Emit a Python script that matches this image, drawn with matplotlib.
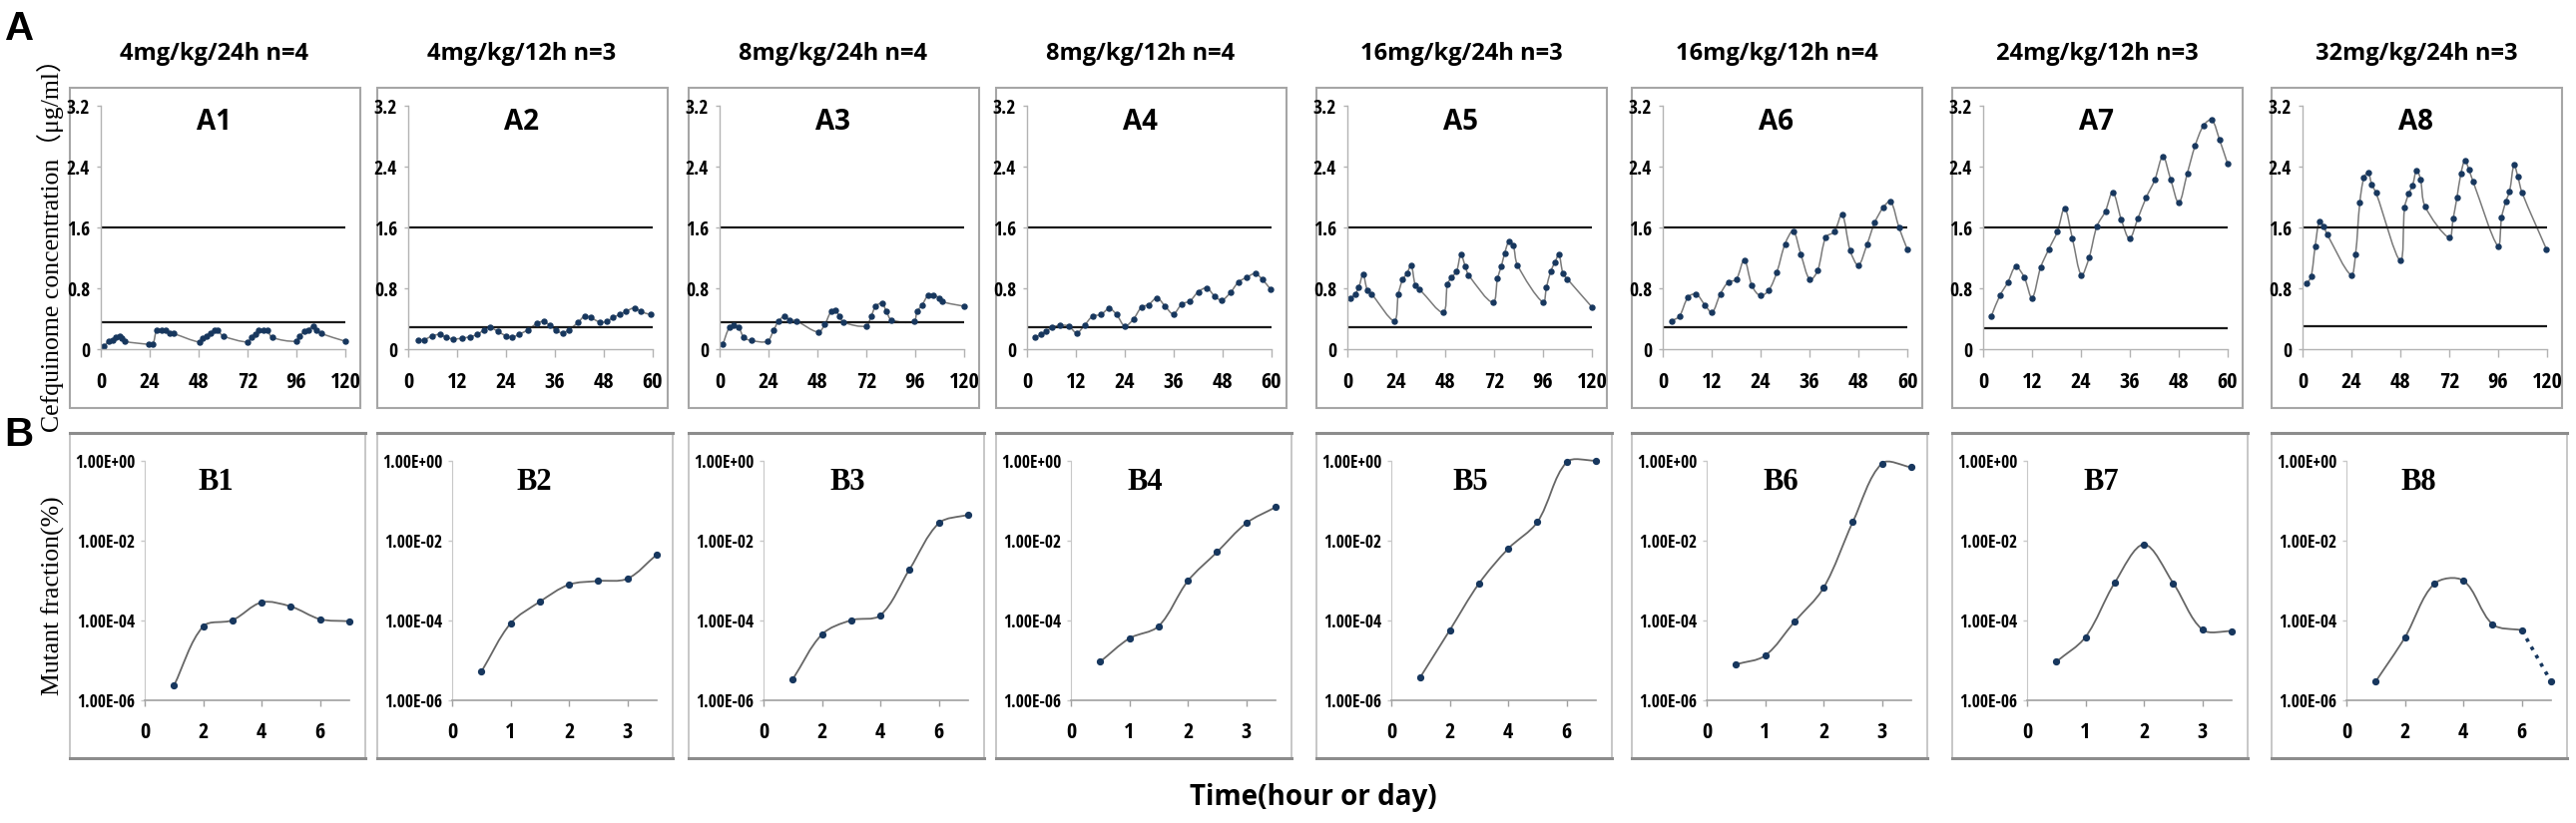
import matplotlib
matplotlib.use('Agg')
import matplotlib.pyplot as plt
import numpy as np
from matplotlib import font_manager
from matplotlib.path import Path
from matplotlib.patches import PathPatch, Rectangle
from matplotlib.ticker import NullLocator

# ---- data ----
titles = ["4mg/kg/24h n=4", "4mg/kg/12h n=3", "8mg/kg/24h n=4", "8mg/kg/12h n=4",
          "16mg/kg/24h n=3", "16mg/kg/12h n=4", "24mg/kg/12h n=3", "32mg/kg/24h n=3"]

a1_t = [1.7, 3.8, 5.8, 7.5, 9.2, 10.5, 11.7, 23.3, 25.5, 27.5, 30, 31.7, 33.8, 35.8, 48.3, 50, 51.7, 53.8,
        55.8, 57.5, 60, 72.2, 73.8, 75.8, 77.5, 80, 81.7, 84.2, 95.8, 97.5, 100, 101.7, 104.2, 105.8, 108.3, 120]
a1_c = [0.04, 0.11, 0.13, 0.17, 0.18, 0.15, 0.11, 0.07, 0.07, 0.26, 0.26, 0.25, 0.22, 0.21, 0.10, 0.15, 0.18, 0.22,
        0.26, 0.25, 0.18, 0.10, 0.17, 0.20, 0.25, 0.26, 0.25, 0.16, 0.11, 0.18, 0.24, 0.26, 0.31, 0.25, 0.21, 0.11]

a2_t = [2.4, 3.9, 5.9, 7.8, 9.3, 11.1, 13.2, 15.2, 17, 18.6, 20.1, 22, 24, 25.5, 27.1, 29.4, 31.7, 33.2, 34.8,
        36.3, 37.9, 39.4, 41.7, 43.3, 44.8, 47.1, 48.7, 50.2, 51.8, 53.3, 55.6, 57.1, 59.5]
a2_c = [0.12, 0.13, 0.18, 0.20, 0.16, 0.14, 0.15, 0.17, 0.20, 0.26, 0.29, 0.24, 0.18, 0.16, 0.20, 0.26, 0.35, 0.37,
        0.32, 0.25, 0.22, 0.26, 0.36, 0.44, 0.42, 0.36, 0.37, 0.42, 0.46, 0.50, 0.55, 0.50, 0.46]

a3_t = [1.6, 4.7, 6.9, 9.4, 11.9, 15.6, 23.4, 26.6, 28.8, 31.9, 34.4, 37.5, 48.4, 51.6, 54.7, 56.9, 58.8, 60.9,
        71.9, 74.4, 76.6, 79.7, 81.9, 84.4, 95.3, 96.9, 99.4, 102.5, 104.7, 107.8, 109.4, 120]
a3_c = [0.07, 0.29, 0.32, 0.29, 0.16, 0.12, 0.11, 0.26, 0.37, 0.44, 0.39, 0.38, 0.23, 0.33, 0.50, 0.52, 0.44, 0.36,
        0.31, 0.44, 0.57, 0.61, 0.50, 0.39, 0.37, 0.50, 0.59, 0.72, 0.72, 0.68, 0.63, 0.57]

a4_t = [1.9, 3.4, 4.7, 6.1, 8.0, 10.2, 12.2, 14.1, 16.1, 18.1, 20.2, 22, 24, 26.1, 28.1, 29.8, 31.9, 33.9, 35.9,
        38, 40, 42, 44.1, 46.1, 47.8, 49.9, 51.9, 53.9, 56, 57.8, 59.8]
a4_c = [0.16, 0.20, 0.24, 0.29, 0.32, 0.31, 0.22, 0.32, 0.44, 0.46, 0.54, 0.46, 0.31, 0.40, 0.56, 0.59, 0.68, 0.57,
        0.47, 0.60, 0.64, 0.76, 0.81, 0.70, 0.65, 0.75, 0.89, 0.95, 1.00, 0.92, 0.79]

a5_t = [1.5, 3.8, 5.6, 7.7, 9.8, 11.9, 23, 25, 27.1, 29.2, 31.3, 33.4, 35.5, 47, 49.1, 51.1, 53.6, 55.7, 57.8,
        59.5, 71.4, 73.7, 75.6, 77.2, 79.3, 81.4, 83.5, 96, 97.7, 99.8, 101.9, 103.8, 105.8, 107.9, 120]
a5_c = [0.68, 0.73, 0.82, 0.99, 0.78, 0.73, 0.38, 0.73, 0.92, 1.00, 1.11, 0.84, 0.79, 0.49, 0.86, 0.95, 1.03, 1.25,
        1.10, 0.98, 0.62, 0.94, 1.10, 1.27, 1.42, 1.37, 1.11, 0.62, 0.82, 1.03, 1.15, 1.25, 1.00, 0.93, 0.56]

a6_t = [2.3, 4.1, 6.2, 8.2, 10.3, 12.1, 14.1, 16.1, 18, 20, 21.9, 23.9, 26, 28, 30, 32, 33.9, 36.1, 38, 40,
        42.1, 44, 46, 48, 50.1, 52, 54.1, 55.9, 58, 60]
a6_c = [0.38, 0.44, 0.69, 0.73, 0.59, 0.49, 0.73, 0.89, 0.92, 1.18, 0.84, 0.71, 0.78, 1.02, 1.39, 1.56, 1.25, 0.92,
        1.04, 1.48, 1.55, 1.78, 1.30, 1.11, 1.38, 1.67, 1.87, 1.95, 1.60, 1.32]

a7_t = [2, 4.1, 6, 8, 10.1, 12, 14.1, 16.1, 18.2, 20, 21.9, 24.1, 26, 27.9, 30, 31.8, 33.9, 35.9, 38, 40,
        42.1, 44.1, 46, 48, 50.1, 52, 54.1, 56.1, 58, 60]
a7_c = [0.44, 0.71, 0.88, 1.09, 0.95, 0.68, 1.08, 1.32, 1.55, 1.86, 1.46, 0.98, 1.21, 1.62, 1.82, 2.07, 1.71, 1.46,
        1.73, 2.00, 2.23, 2.54, 2.24, 1.93, 2.32, 2.68, 2.95, 3.02, 2.76, 2.44]

a8_t = [2.1, 4.2, 6.2, 8.3, 10.4, 12, 23.8, 26, 28.1, 30.1, 32.2, 34, 36.1, 48, 50.1, 52.1, 54, 56, 57.9, 60.2,
        72, 73.9, 75.8, 77.7, 79.7, 81.6, 83.7, 95.9, 97.7, 99.8, 101.6, 103.8, 105.7, 107.8, 119.7]
a8_c = [0.87, 0.96, 1.36, 1.69, 1.62, 1.52, 0.98, 1.25, 1.93, 2.26, 2.33, 2.17, 2.06, 1.17, 1.87, 2.05, 2.16, 2.36,
        2.24, 1.88, 1.47, 1.72, 2.00, 2.31, 2.49, 2.37, 2.21, 1.36, 1.74, 1.95, 2.08, 2.43, 2.27, 2.06, 1.32]

a_xmax = [120, 60, 120, 60, 120, 60, 60, 120]
mpc_line = [1.6, 1.6, 1.6, 1.6, 1.6, 1.6, 1.6, 1.6]
mic_line = [0.36, 0.29, 0.36, 0.30, 0.29, 0.29, 0.28, 0.31]

days_7 = [1, 2, 3, 4, 5, 6, 7]
days_35 = [0.5, 1, 1.5, 2, 2.5, 3, 3.5]
b1_y = [2.3e-6, 7e-5, 1e-4, 2.8e-4, 2.2e-4, 1.06e-4, 9.4e-5]
b2_y = [5.1e-6, 8.3e-5, 2.9e-4, 7.8e-4, 9.6e-4, 1.1e-3, 4.4e-3]
b3_y = [3.3e-6, 4.4e-5, 1e-4, 1.33e-4, 1.9e-3, 2.7e-2, 4.4e-2]
b4_y = [9.1e-6, 3.5e-5, 7.1e-5, 9.6e-4, 5.1e-3, 2.7e-2, 6.8e-2]
b5_y = [3.8e-6, 5.6e-5, 8.3e-4, 6.2e-3, 2.9e-2, 0.91, 1.0]
b6_y = [7.8e-6, 1.3e-5, 9.1e-5, 6.5e-4, 2.9e-2, 0.85, 0.68]
b7_y = [9.1e-6, 3.8e-5, 8.7e-4, 7.9e-3, 8.5e-4, 5.8e-5, 5.3e-5]
b8_y = [2.9e-6, 3.7e-5, 8.1e-4, 9.8e-4, 7.9e-5, 5.6e-5, 2.9e-6]
b_x = [days_7, days_35, days_7, days_35, days_7, days_35, days_35, days_7]
b_xmax = [7, 3.5, 7, 3.5, 7, 3.5, 3.5, 7]
b_solid = [7, 7, 7, 7, 7, 7, 7, 6]   # B8: last step drawn dotted
b_ticks = [1e-6, 1e-4, 1e-2, 1]
b_ticklabels = ["1.00E-06", "1.00E-04", "1.00E-02", "1.00E+00"]

a_series = [(a1_t, a1_c), (a2_t, a2_c), (a3_t, a3_c), (a4_t, a4_c),
            (a5_t, a5_c), (a6_t, a6_c), (a7_t, a7_c), (a8_t, a8_c)]
b_series = [b1_y, b2_y, b3_y, b4_y, b5_y, b6_y, b7_y, b8_y]
b_label_x = [0.35, 0.40, 0.41, 0.36, 0.385, 0.36, 0.36, 0.35]

# ---- fonts ----
avail = {f.name for f in font_manager.fontManager.ttflist}


def pick(*names):
    for n in names:
        if n in avail:
            return n
    return 'DejaVu Sans'


NARROW = pick('Liberation Sans Narrow', 'Open Sans Condensed', 'Roboto Condensed', 'Open Sans', 'DejaVu Sans')
SANS = pick('Open Sans', 'Noto Sans', 'DejaVu Sans')
SERIF = pick('Liberation Serif', 'DejaVu Serif')
ARIAL = pick('Liberation Sans', 'DejaVu Sans')

# tick labels pick these up
plt.rcParams['font.family'] = NARROW
plt.rcParams['font.weight'] = 'bold'

W, H = 2581, 825
fig = plt.figure(figsize=(W / 100, H / 100), dpi=100)

bg = fig.add_axes([0, 0, 1, 1])
bg.set_xlim(0, W)
bg.set_ylim(H, 0)
bg.axis('off')


def px_axes(left, top, width, height):
    return fig.add_axes([left / W, 1 - (top + height) / H, width / W, height / H])


def smooth_line(ax, x, y, sx, sy, logy=False, **kw):
    # Excel-like smoothed line: cubic Bezier segments through the points
    x = np.asarray(x, float)
    y = np.asarray(y, float)
    yy = np.log10(y) if logy else y
    p = np.column_stack([x * sx, yy * sy])
    n = len(p)
    verts = [p[0]]
    codes = [Path.MOVETO]
    for i in range(n - 1):
        p0, p1, p2, p3 = p[max(i - 1, 0)], p[i], p[i + 1], p[min(i + 2, n - 1)]
        l01 = np.hypot(*(p1 - p0))
        l12 = np.hypot(*(p2 - p1))
        l23 = np.hypot(*(p3 - p2))
        c1 = p1 + (p2 - p0) * l12 / (3 * (l01 + l12))
        c2 = p2 - (p3 - p1) * l12 / (3 * (l12 + l23))
        verts += [c1, c2, p2]
        codes += [Path.CURVE4] * 3
    verts = np.array(verts)
    verts[:, 0] /= sx
    verts[:, 1] /= sy
    if logy:
        verts[:, 1] = 10 ** verts[:, 1]
    ax.add_patch(PathPatch(Path(verts, codes), fill=False, clip_on=False, **kw))


frame_left = [70, 378, 690, 998, 1319, 1635, 1956, 2276]
GRID = '#b3b3b3'
LINE = '#7a7a7a'
MARK = '#17375e'

# big panel letters and shared labels
bg.text(5, 29, 'A', fontsize=29, fontweight='bold', family=ARIAL, va='center', ha='left')
bg.text(4, 436, 'B', fontsize=29, fontweight='bold', family=ARIAL, va='center', ha='left')
bg.text(51, 240, 'Cefquinome concentration（μg/ml）', rotation=90, fontsize=18.5, fontweight='normal',
        family=[SERIF, 'Noto Sans CJK SC'], ha='center', va='center')
bg.text(53, 597, 'Mutant fraction(%)', rotation=90, fontsize=18.5, fontweight='normal', family=SERIF,
        ha='center', va='center')
bg.text(1316, 800, 'Time(hour or day)', fontsize=20, fontweight='bold', family=SANS,
        ha='center', va='center')

for i, L in enumerate(frame_left):
    # ---- frames ----
    bg.add_patch(Rectangle((L, 88), 291, 321, fill=False, ec='#a6a6a6', lw=1.5))
    bg.add_patch(Rectangle((L, 434), 296, 326, fill=False, ec='#bdbdbd', lw=1.2))
    bg.plot([L, L + 296], [434, 434], color='#8c8c8c', lw=2.2)
    bg.plot([L, L + 296], [760, 760], color='#8c8c8c', lw=2.2)
    bg.text(L + 145, 54, titles[i], fontsize=17, fontweight='bold', family=SANS,
            ha='center', va='center')

    # ---- row A: concentration ----
    t, c = a_series[i]
    ax = px_axes(L + 31, 106.5, 245, 244)
    ax.set_facecolor('none')
    ax.set_xlim(0, a_xmax[i])
    ax.set_ylim(0, 3.2)
    step = a_xmax[i] // 5
    ax.set_xticks(np.arange(0, a_xmax[i] + 1, step))
    ax.set_yticks([0, 0.8, 1.6, 2.4, 3.2], labels=['0', '0.8', '1.6', '2.4', '3.2'])
    for s in ['top', 'right']:
        ax.spines[s].set_visible(False)
    for s in ['left', 'bottom']:
        ax.spines[s].set_color(GRID)
        ax.spines[s].set_linewidth(1.0)
    ax.tick_params(axis='x', direction='out', length=6, width=1, color=GRID, pad=10, labelsize=16)
    ax.tick_params(axis='y', direction='out', length=3, width=1, color=GRID, pad=5, labelsize=14)
    ax.axhline(mpc_line[i], color='#1a1a1a', lw=1.6)
    ax.axhline(mic_line[i], color='#1a1a1a', lw=1.6)
    smooth_line(ax, t, c, 245 / a_xmax[i], 244 / 3.2, ec=LINE, lw=1.1)
    ax.plot(t, c, 'o', ms=3.6, color=MARK, clip_on=False)
    ax.text(0.465, 0.935, 'A%d' % (i + 1), transform=ax.transAxes, fontsize=20, fontweight='bold',
            family=SANS, ha='center', va='center')

    # ---- row B: mutant fraction ----
    bx = b_x[i]
    by = b_series[i]
    ax = px_axes(L + 75, 461.7, 205, 240)
    ax.set_facecolor('none')
    ax.set_yscale('log')
    ax.set_xlim(0, b_xmax[i])
    ax.set_ylim(1e-6, 1)
    ax.set_yticks(b_ticks, labels=b_ticklabels)
    ax.yaxis.set_minor_locator(NullLocator())
    if b_xmax[i] == 7:
        ax.set_xticks([0, 2, 4, 6])
    else:
        ax.set_xticks([0, 1, 2, 3])
    for s in ['top', 'right']:
        ax.spines[s].set_visible(False)
    ax.spines['left'].set_color('#c8c8c8')
    ax.spines['bottom'].set_color('#a0a0a0')
    ax.spines['bottom'].set_linewidth(1.2)
    ax.tick_params(axis='x', direction='out', length=4, width=1, color='#a0a0a0', pad=12, labelsize=16)
    ax.tick_params(axis='y', direction='out', length=3, width=1, color='#c8c8c8', pad=4, labelsize=12.5)
    k = b_solid[i]
    smooth_line(ax, bx[:k], by[:k], 205 / b_xmax[i], 40, logy=True, ec='#666666', lw=1.3)
    if k < len(bx):
        ax.plot(bx[k - 1:], by[k - 1:], ':', color=MARK, lw=2.6)
    ax.plot(bx, by, 'o', ms=4.2, color=MARK, clip_on=False)
    ax.text(b_label_x[i], 0.91, 'B%d' % (i + 1), transform=ax.transAxes, fontsize=22, fontweight='bold',
            family=SERIF, ha='center', va='center')

fig.savefig('out.png', dpi=100)
